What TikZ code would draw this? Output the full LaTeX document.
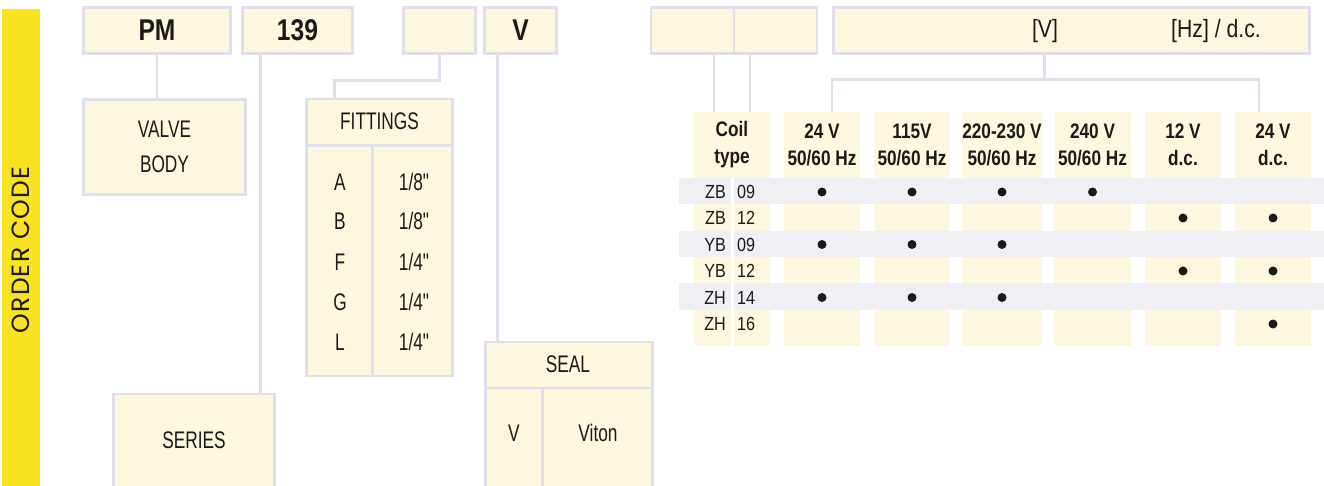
\documentclass[tikz,border=0pt]{standalone}
\usepackage{fontspec}
\setmainfont{Liberation Sans}[FakeStretch=0.72]
\newfontfamily\inchfont{Liberation Sans}[FakeStretch=0.72]
\newfontfamily\headfont{Liberation Sans}[FakeStretch=0.82]
\newfontfamily\rowfont{Liberation Sans}[FakeStretch=0.85]
\newfontfamily\orderfont{Poppins}[LetterSpace=5]
\usepackage{tikz}
\usetikzlibrary{positioning}
\definecolor{cream}{HTML}{FEF7E0}
\definecolor{framegray}{HTML}{E0DFEB}
\definecolor{rowgray}{HTML}{F0EFF4}
\definecolor{ordery}{HTML}{F9E21F}
\definecolor{ink}{HTML}{1A1A1A}
\tikzstyle{codebox} = [draw=framegray, line width=2.5pt, fill=cream, inner sep=0pt, text=ink, font=\fontsize{24}{35}\selectfont]
\tikzstyle{keybox} = [codebox, font=\headfont\bfseries\fontsize{30}{30}\selectfont]
\tikzstyle{word} = [inner sep=0pt, text=ink, font=\fontsize{24}{35}\selectfont]
\tikzstyle{inch} = [word, font=\inchfont\fontsize{24}{35}\selectfont]
\tikzstyle{unit} = [inner sep=0pt, text=ink, font=\rowfont\fontsize{25}{25}\selectfont]
\tikzstyle{hdcell} = [fill=cream, inner sep=0pt, minimum width=76pt, minimum height=65pt, align=center, text=ink, font=\headfont\bfseries\fontsize{21}{27}\selectfont]
\tikzstyle{rowtxt} = [inner sep=0pt, text=ink, font=\rowfont\fontsize{19}{19}\selectfont]
\tikzstyle{dot} = [circle, fill=ink, inner sep=0pt, minimum size=9pt]
\tikzstyle{line} = [draw=framegray, line width=2.5pt]

\begin{document}
\begin{tikzpicture}[x=1pt, y=-1pt]
			\useasboundingbox (0,0) rectangle (1324,486);
			% order code bar
			\node [fill=ordery, inner sep=0pt, minimum width=38pt, minimum height=477pt] (bar) at (21,247.5) {};
			\node [rotate=90, inner sep=0pt, text=ink, font=\orderfont\fontsize{25}{25}\selectfont] (order) at (21,250) {ORDER CODE};

			% code fields
			\node [keybox, minimum width=147pt, minimum height=46pt] (pm) at (157,30.5) {PM};
			\node [keybox, minimum width=110pt, minimum height=46pt] (num) at (297.5,30.5) {139};
			\node [keybox, minimum width=72pt, minimum height=46pt] (fit) at (439.5,30.5) {};
			\node [keybox, minimum width=72pt, minimum height=46pt] (sealcode) at (520.5,30.5) {V};
			\node [keybox, minimum width=83pt, minimum height=46pt] (coilt) at (692.5,30.5) {};
			\node [keybox, minimum width=83pt, minimum height=46pt] (coiln) at (775.5,30.5) {};
			\node [keybox, minimum width=476pt, minimum height=46pt] (volt) at (1071.5,30.5) {};
			\node [unit] (vunit) at (1045,31) {[V]};
			\node [unit] (hzunit) at (1216,31) {[Hz] / d.c.};

			% valve body and series
			\node [codebox, align=center, minimum width=162pt, minimum height=95pt] (valve) at (164.5,147) {VALVE\\BODY};
			\node [codebox, minimum width=161pt, minimum height=110pt] (series) at (194,449) {};
			\node [word] (serieslbl) at (194,440) {SERIES};

			% fittings
			\node [codebox, minimum width=146pt, minimum height=277pt] (fittings) at (379.5,237.5) {};
			\path [line] ([yshift=-48pt]fittings.north west) -- ([yshift=-48pt]fittings.north east);
			\path [line] ([xshift=67pt,yshift=-48pt]fittings.north west) -- ([xshift=67pt]fittings.south west);
			\node [word] (fithd) at (379.5,121) {FITTINGS};
			\node [word] (fa) at (340,182) {A};
			\node [word] (fb) at (340,221) {B};
			\node [word] (ff) at (340,262) {F};
			\node [word] (fg) at (340,302) {G};
			\node [word] (fl) at (340,342) {L};
			\node [inch] (fa2) at (414,182) {1/8"};
			\node [inch] (fb2) at (414,221) {1/8"};
			\node [inch] (ff2) at (414,262) {1/4"};
			\node [inch] (fg2) at (414,302) {1/4"};
			\node [inch] (fl2) at (414,342) {1/4"};

			% seal
			\node [codebox, minimum width=167pt, minimum height=158pt] (seal) at (569,421) {};
			\path [line] ([yshift=-47pt]seal.north west) -- ([yshift=-47pt]seal.north east);
			\path [line] ([xshift=58pt,yshift=-47pt]seal.north west) -- ([xshift=58pt]seal.south west);
			\node [word] (sealhd) at (568,364) {SEAL};
			\node [word] (sv) at (514,433) {V};
			\node [word] (sviton) at (598,433) {Viton};

			% coil table head
			\node [hdcell] (hd0) at (732,144.5) {Coil\\type};
			\node [hdcell] (hd1) at (822,144.5) {24 V\\50/60 Hz};
			\node [hdcell] (hd2) at (912,144.5) {115V\\50/60 Hz};
			\node [hdcell] (hd3) at (1002,144.5) {220-230 V\\50/60 Hz};
			\node [hdcell] (hd4) at (1092.5,144.5) {240 V\\50/60 Hz};
			\node [hdcell] (hd5) at (1183,144.5) {12 V\\d.c.};
			\node [hdcell] (hd6) at (1273,144.5) {24 V\\d.c.};

			% coil table body
			\coordinate (tbot) at (0,346);
			\fill [cream] (hd0.south west) rectangle (hd0.east |- tbot);
			\fill [cream] (hd1.south west) rectangle (hd1.east |- tbot);
			\fill [cream] (hd2.south west) rectangle (hd2.east |- tbot);
			\fill [cream] (hd3.south west) rectangle (hd3.east |- tbot);
			\fill [cream] (hd4.south west) rectangle (hd4.east |- tbot);
			\fill [cream] (hd5.south west) rectangle (hd5.east |- tbot);
			\fill [cream] (hd6.south west) rectangle (hd6.east |- tbot);
			\fill [rowgray] (679,178) rectangle (1324,204.3);
			\fill [rowgray] (679,230.6) rectangle (1324,257);
			\fill [rowgray] (679,283.2) rectangle (1324,309.5);
			\draw [white, line width=3pt] ([yshift=-1pt]hd0.south) -- (hd0.south |- tbot);

			\node [rowtxt, anchor=east] (r1a) at (726,192) {ZB};
			\node [rowtxt, anchor=west] (r1b) at (737,192) {09};
			\node [rowtxt, anchor=east] (r2a) at (726,218) {ZB};
			\node [rowtxt, anchor=west] (r2b) at (737,218) {12};
			\node [rowtxt, anchor=east] (r3a) at (726,244.5) {YB};
			\node [rowtxt, anchor=west] (r3b) at (737,244.5) {09};
			\node [rowtxt, anchor=east] (r4a) at (726,271) {YB};
			\node [rowtxt, anchor=west] (r4b) at (737,271) {12};
			\node [rowtxt, anchor=east] (r5a) at (726,297.5) {ZH};
			\node [rowtxt, anchor=west] (r5b) at (737,297.5) {14};
			\node [rowtxt, anchor=east] (r6a) at (726,324) {ZH};
			\node [rowtxt, anchor=west] (r6b) at (737,324) {16};

			\node [dot] (d11) at (822,192) {};
			\node [dot] (d12) at (912,192) {};
			\node [dot] (d13) at (1002,192) {};
			\node [dot] (d14) at (1092.5,192) {};
			\node [dot] (d25) at (1183,218) {};
			\node [dot] (d26) at (1273,218) {};
			\node [dot] (d31) at (822,244.5) {};
			\node [dot] (d32) at (912,244.5) {};
			\node [dot] (d33) at (1002,244.5) {};
			\node [dot] (d45) at (1183,271) {};
			\node [dot] (d46) at (1273,271) {};
			\node [dot] (d51) at (822,297.5) {};
			\node [dot] (d52) at (912,297.5) {};
			\node [dot] (d53) at (1002,297.5) {};
			\node [dot] (d66) at (1273,324) {};

			% connectors
			\path [line] (pm.south) -- (pm.south |- valve.north);
			\path [line] ([xshift=19pt]num.south west) -- ([xshift=19pt]num.south west |- series.north);
			\path [line] (fit.south) -- ++(0,26) -| ([xshift=29pt]fittings.north west);
			\path [line] ([xshift=14pt]sealcode.south west) -- ([xshift=14pt]sealcode.south west |- seal.north);
			\path [line] ([xshift=20pt]hd0.north west) -- ([xshift=20pt]hd0.north west |- coilt.south);
			\path [line] ([xshift=56pt]hd0.north west) -- ([xshift=56pt]hd0.north west |- coiln.south);
			\path [line] ([xshift=212pt]volt.south west) -- ++(0,25) coordinate (vjoin);
			\path [line] ([xshift=48pt]hd1.north west) |- (vjoin) -| ([xshift=24pt]hd6.north west);
		\end{tikzpicture}
\end{document}
